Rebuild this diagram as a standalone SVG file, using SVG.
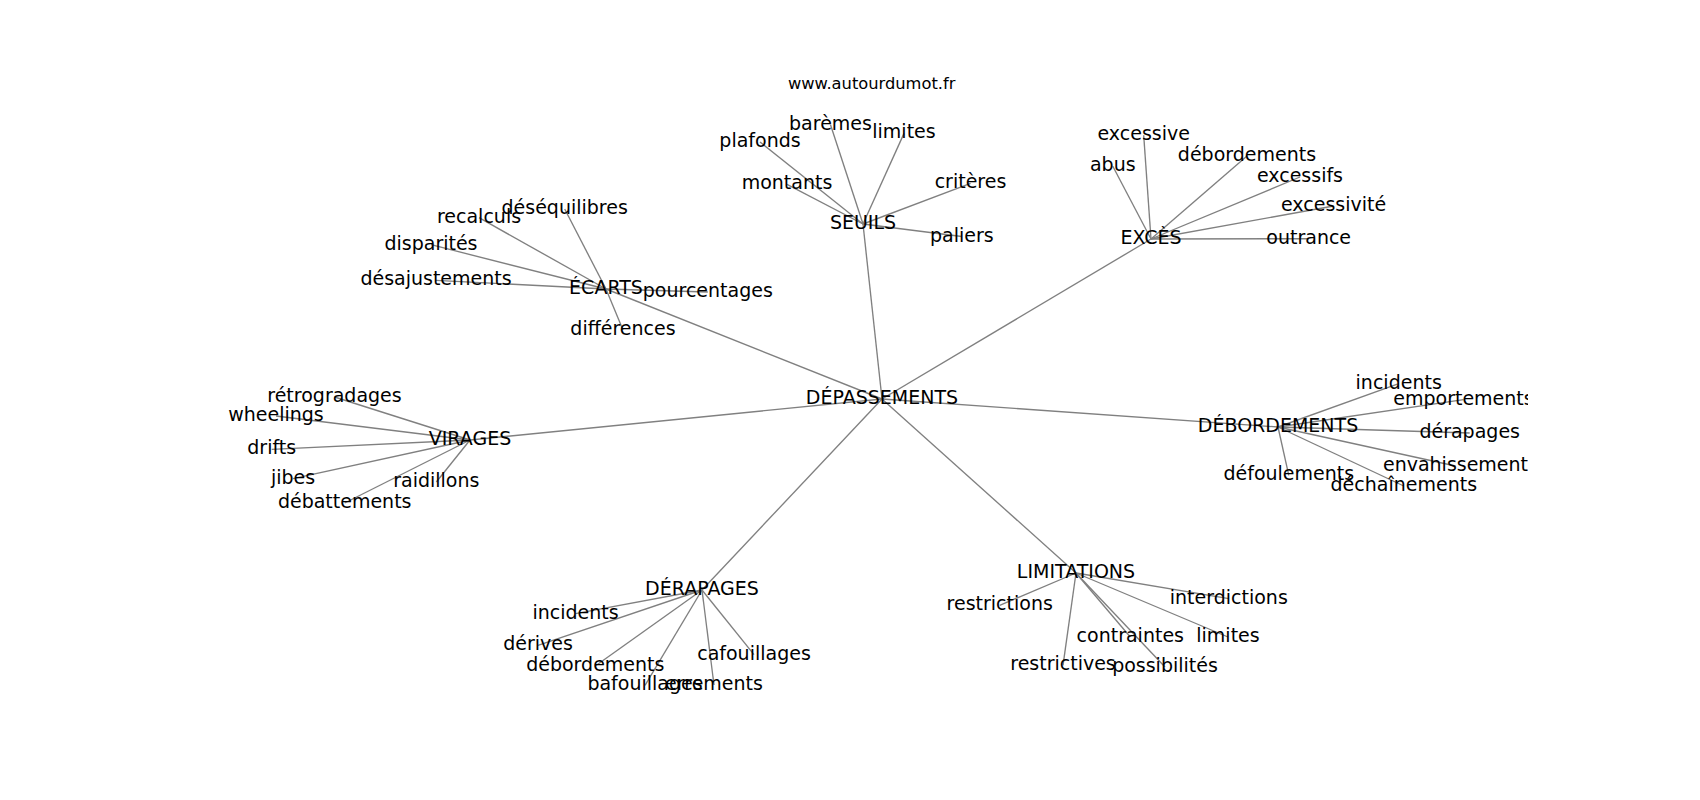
<svg xmlns="http://www.w3.org/2000/svg" width="1700" height="800" viewBox="0 0 1700 800">
<defs>
<style>
.e{stroke:#808080;stroke-width:1.35;fill:none}
.n text{font-family:"DejaVu Sans",sans-serif;font-size:19px;fill:#000;text-anchor:middle}
.wm{font-family:"DejaVu Sans",sans-serif;font-size:16.3px;fill:#000;text-anchor:middle}
</style>
<clipPath id="ax"><rect x="0" y="0" width="1528" height="800"/></clipPath>
</defs>
<rect width="1700" height="800" fill="#fff"/>
<text class="wm" x="871.7" y="88.5">www.autourdumot.fr</text>
<g id="edges" class="e">
<line x1="882" y1="399" x2="863" y2="224"/>
<line x1="882" y1="399" x2="1151" y2="239"/>
<line x1="882" y1="399" x2="606" y2="289"/>
<line x1="882" y1="399" x2="470" y2="440"/>
<line x1="882" y1="399" x2="1278" y2="427"/>
<line x1="882" y1="399" x2="702" y2="590"/>
<line x1="882" y1="399" x2="1076" y2="573"/>
<line x1="863" y1="224" x2="830.5" y2="124.7"/>
<line x1="863" y1="224" x2="904" y2="133.4"/>
<line x1="863" y1="224" x2="760" y2="142"/>
<line x1="863" y1="224" x2="787" y2="184.4"/>
<line x1="863" y1="224" x2="970.5" y2="183.3"/>
<line x1="863" y1="224" x2="961.8" y2="236.5"/>
<line x1="1151" y1="239" x2="1143.7" y2="135.3"/>
<line x1="1151" y1="239" x2="1112.8" y2="166.3"/>
<line x1="1151" y1="239" x2="1247" y2="156"/>
<line x1="1151" y1="239" x2="1300" y2="177"/>
<line x1="1151" y1="239" x2="1333.6" y2="206"/>
<line x1="1151" y1="239" x2="1308.7" y2="238.7"/>
<line x1="606" y1="289" x2="564.7" y2="209"/>
<line x1="606" y1="289" x2="479" y2="217.7"/>
<line x1="606" y1="289" x2="431" y2="244.7"/>
<line x1="606" y1="289" x2="436" y2="280.3"/>
<line x1="606" y1="289" x2="707.8" y2="292"/>
<line x1="606" y1="289" x2="623" y2="330"/>
<line x1="470" y1="440" x2="334.5" y2="397"/>
<line x1="470" y1="440" x2="276" y2="416"/>
<line x1="470" y1="440" x2="271.7" y2="449.3"/>
<line x1="470" y1="440" x2="293" y2="478.7"/>
<line x1="470" y1="440" x2="436.3" y2="482"/>
<line x1="470" y1="440" x2="344.7" y2="503"/>
<line x1="1278" y1="427" x2="1398.7" y2="383.7"/>
<line x1="1278" y1="427" x2="1463.5" y2="399.7"/>
<line x1="1278" y1="427" x2="1469.7" y2="433"/>
<line x1="1278" y1="427" x2="1455.5" y2="466"/>
<line x1="1278" y1="427" x2="1288.8" y2="475.3"/>
<line x1="1278" y1="427" x2="1403.8" y2="486"/>
<line x1="702" y1="590" x2="575.5" y2="613.7"/>
<line x1="702" y1="590" x2="538" y2="645.3"/>
<line x1="702" y1="590" x2="595.3" y2="666"/>
<line x1="702" y1="590" x2="645" y2="685.3"/>
<line x1="702" y1="590" x2="714" y2="685"/>
<line x1="702" y1="590" x2="754" y2="654.7"/>
<line x1="1076" y1="573" x2="999.7" y2="605.3"/>
<line x1="1076" y1="573" x2="1063" y2="665.3"/>
<line x1="1076" y1="573" x2="1130.3" y2="637"/>
<line x1="1076" y1="573" x2="1228" y2="637"/>
<line x1="1076" y1="573" x2="1228.8" y2="598.7"/>
<line x1="1076" y1="573" x2="1165" y2="667"/>
</g>
<g id="nodes" class="n" clip-path="url(#ax)">
<g id="n-depassements"><text x="882" y="404">DÉPASSEMENTS</text></g>
<g id="n-seuils"><text x="863" y="229">SEUILS</text></g>
<g id="n-baremes"><text x="830.5" y="129.7">barèmes</text></g>
<g id="n-limites1"><text x="904" y="138.4">limites</text></g>
<g id="n-plafonds"><text x="760" y="147">plafonds</text></g>
<g id="n-montants"><text x="787" y="189.4">montants</text></g>
<g id="n-criteres"><text x="970.5" y="188.3">critères</text></g>
<g id="n-paliers"><text x="961.8" y="241.5">paliers</text></g>
<g id="n-exces"><text x="1151" y="244">EXCÈS</text></g>
<g id="n-excessive"><text x="1143.7" y="140.3">excessive</text></g>
<g id="n-abus"><text x="1112.8" y="171.3">abus</text></g>
<g id="n-debordements1"><text x="1247" y="161">débordements</text></g>
<g id="n-excessifs"><text x="1300" y="182">excessifs</text></g>
<g id="n-excessivite"><text x="1333.6" y="211">excessivité</text></g>
<g id="n-outrance"><text x="1308.7" y="243.7">outrance</text></g>
<g id="n-ecarts"><text x="606" y="294">ÉCARTS</text></g>
<g id="n-desequilibres"><text x="564.7" y="214">déséquilibres</text></g>
<g id="n-recalculs"><text x="479" y="222.7">recalculs</text></g>
<g id="n-disparites"><text x="431" y="249.7">disparités</text></g>
<g id="n-desajustements"><text x="436" y="285.3">désajustements</text></g>
<g id="n-pourcentages"><text x="707.8" y="297">pourcentages</text></g>
<g id="n-differences"><text x="623" y="335">différences</text></g>
<g id="n-virages"><text x="470" y="445">VIRAGES</text></g>
<g id="n-retrogradages"><text x="334.5" y="402">rétrogradages</text></g>
<g id="n-wheelings"><text x="276" y="421">wheelings</text></g>
<g id="n-drifts"><text x="271.7" y="454.3">drifts</text></g>
<g id="n-jibes"><text x="293" y="483.7">jibes</text></g>
<g id="n-raidillons"><text x="436.3" y="487">raidillons</text></g>
<g id="n-debattements"><text x="344.7" y="508">débattements</text></g>
<g id="n-debordements"><text x="1278" y="432">DÉBORDEMENTS</text></g>
<g id="n-incidents1"><text x="1398.7" y="388.7">incidents</text></g>
<g id="n-emportements"><text x="1463.5" y="404.7">emportements</text></g>
<g id="n-derapages1"><text x="1469.7" y="438">dérapages</text></g>
<g id="n-envahissement"><text x="1455.5" y="471">envahissement</text></g>
<g id="n-defoulements"><text x="1288.8" y="480.3">défoulements</text></g>
<g id="n-dechainements"><text x="1403.8" y="491">déchaînements</text></g>
<g id="n-derapages"><text x="702" y="595">DÉRAPAGES</text></g>
<g id="n-incidents2"><text x="575.5" y="618.7">incidents</text></g>
<g id="n-derives"><text x="538" y="650.3">dérives</text></g>
<g id="n-debordements2"><text x="595.3" y="671">débordements</text></g>
<g id="n-bafouillages"><text x="645" y="690.3">bafouillages</text></g>
<g id="n-errements"><text x="714" y="690">errements</text></g>
<g id="n-cafouillages"><text x="754" y="659.7">cafouillages</text></g>
<g id="n-limitations"><text x="1076" y="578">LIMITATIONS</text></g>
<g id="n-restrictions"><text x="999.7" y="610.3">restrictions</text></g>
<g id="n-restrictives"><text x="1063" y="670.3">restrictives</text></g>
<g id="n-contraintes"><text x="1130.3" y="642">contraintes</text></g>
<g id="n-limites2"><text x="1228" y="642">limites</text></g>
<g id="n-interdictions"><text x="1228.8" y="603.7">interdictions</text></g>
<g id="n-possibilites"><text x="1165" y="672">possibilités</text></g>
</g>
</svg>
